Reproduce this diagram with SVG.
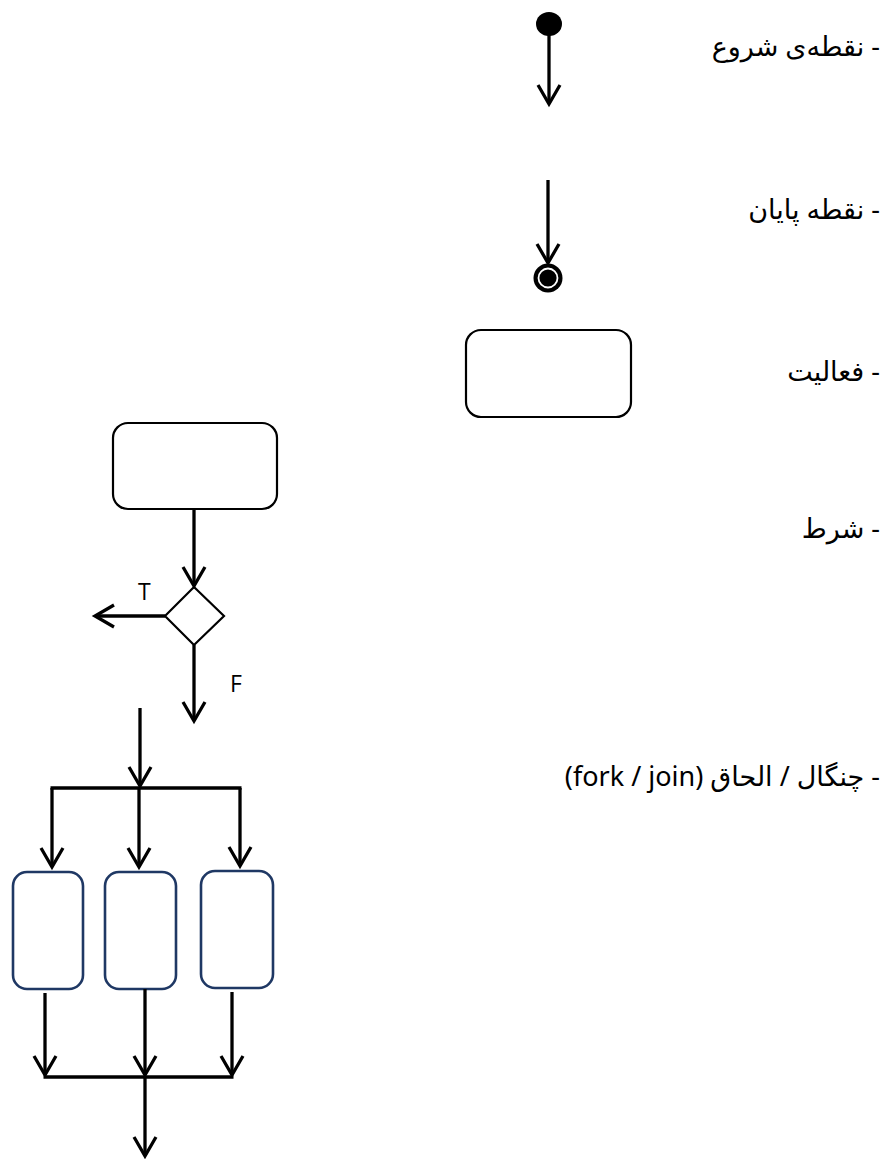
<svg xmlns="http://www.w3.org/2000/svg" width="891" height="1159" viewBox="0 0 891 1159">
  <style>
    .ln { stroke: #000; stroke-width: 3.3; fill: none; }
    .arr { marker-end: url(#vhead); }
    .act { fill: #fff; stroke: #000; stroke-width: 2.2; }
    .sub { fill: #fff; stroke: #1f3864; stroke-width: 2.6; }
    .lbl { font-family: "Noto Sans", "DejaVu Sans", sans-serif; font-size: 27px; fill: #000; }
    .tf { font-family: "Open Sans", "Noto Sans", sans-serif; font-size: 23px; fill: #000; }
  </style>
  <defs>
    <marker id="vhead" markerUnits="userSpaceOnUse" viewBox="-22 -13 26 26" refX="0" refY="0" markerWidth="26" markerHeight="26" orient="auto">
      <path d="M-19,-11 L0,0 L-19,11" fill="none" stroke="#000" stroke-width="3.3"/>
    </marker>
  </defs>

  <!-- legend labels -->
  <g id="labels">
    <text class="lbl" x="880" y="56" direction="rtl" text-anchor="start">- نقطه‌ی شروع</text>
    <text class="lbl" x="880" y="219" direction="rtl" text-anchor="start">- نقطه پایان</text>
    <text class="lbl" x="880" y="381" direction="rtl" text-anchor="start">- فعالیت</text>
    <text class="lbl" x="880" y="538" direction="rtl" text-anchor="start">- شرط</text>
    <text class="lbl" x="880" y="786" direction="rtl" text-anchor="start">- چنگال / الحاق (fork / join)</text>
  </g>

  <!-- legend symbols -->
  <g id="start-node">
    <ellipse cx="549" cy="24" rx="13" ry="12" fill="#000"/>
  </g>
  <g id="end-node">
    <circle cx="548" cy="278" r="14.5" fill="#000"/>
    <circle cx="548" cy="278" r="9.5" fill="none" stroke="#fff" stroke-width="1.8"/>
  </g>
  <g id="activity-legend">
    <rect class="act" x="466" y="330" width="165" height="87" rx="15"/>
  </g>

  <!-- decision example -->
  <g id="activity-main">
    <rect class="act" x="113" y="423" width="164" height="86" rx="15"/>
  </g>
  <g id="decision">
    <polygon class="act" points="194,587 224,616 194,645 165,616"/>
    <text class="tf" x="138" y="600">T</text>
    <text class="tf" x="230" y="692">F</text>
  </g>

  <!-- fork / join example -->
  <g id="fork-bar">
    <line class="ln" x1="50.5" y1="788" x2="241.5" y2="788"/>
  </g>
  <g id="branch-1">
    <rect class="sub" x="13" y="872" width="70" height="117" rx="14"/>
  </g>
  <g id="branch-2">
    <rect class="sub" x="105" y="872" width="71" height="117" rx="14"/>
  </g>
  <g id="branch-3">
    <rect class="sub" x="201" y="871" width="72" height="117" rx="14"/>
  </g>
  <g id="join-bar">
    <line class="ln" x1="43.5" y1="1077" x2="233.5" y2="1077"/>
  </g>

  <!-- connectors -->
  <g id="connectors">
    <line class="ln arr" x1="549" y1="35" x2="549" y2="104"/>
    <line class="ln arr" x1="548" y1="180" x2="548" y2="263"/>
    <line class="ln arr" x1="194" y1="509" x2="194" y2="586"/>
    <line class="ln arr" x1="165" y1="616" x2="95" y2="616"/>
    <line class="ln arr" x1="194" y1="645" x2="194" y2="721"/>
    <line class="ln arr" x1="140" y1="708" x2="140" y2="786"/>
    <line class="ln arr" x1="52" y1="788" x2="52" y2="867"/>
    <line class="ln arr" x1="139" y1="788" x2="139" y2="867"/>
    <line class="ln arr" x1="240" y1="788" x2="240" y2="866"/>
    <line class="ln arr" x1="45" y1="993" x2="45" y2="1075"/>
    <line class="ln arr" x1="145" y1="989" x2="145" y2="1075"/>
    <line class="ln arr" x1="232" y1="992" x2="232" y2="1075"/>
    <line class="ln arr" x1="145" y1="1077" x2="145" y2="1156"/>
  </g>
</svg>
